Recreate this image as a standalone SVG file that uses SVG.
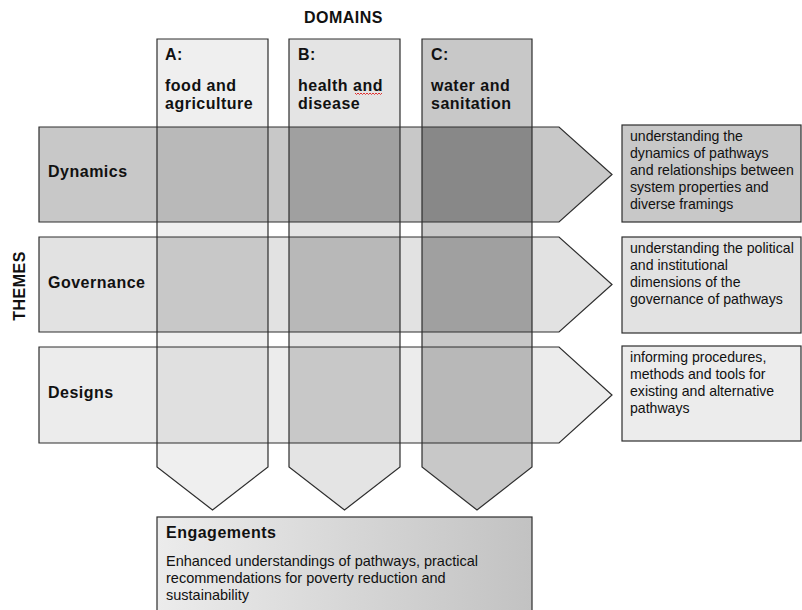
<svg xmlns="http://www.w3.org/2000/svg" width="802" height="610" viewBox="0 0 802 610">
<style>
text{font-family:"Liberation Sans",Arial,sans-serif;fill:#111}
.b{font-weight:bold;font-size:16px;letter-spacing:0.5px}
.r{font-size:14.5px}
.rs{font-size:14.1px}
.ol{fill:none;stroke:#2e2e2e;stroke-width:1.2}
.bx{stroke:#2e2e2e;stroke-width:1.2}
</style>
<defs>
<linearGradient id="eg" x1="0" y1="0" x2="1" y2="0">
<stop offset="0" stop-color="#ececec"/>
<stop offset="1" stop-color="#c2c2c2"/>
</linearGradient>
</defs>
<rect width="802" height="610" fill="#ffffff"/>
<text class="b" x="343.5" y="23" text-anchor="middle">DOMAINS</text>
<text class="b" transform="translate(25,286) rotate(-90)" text-anchor="middle">THEMES</text>

<g id="fills">
<path d="M157,39 H268 V467 L212.5,510 L157,467 Z" fill="#efefef"/>
<path d="M289,39 H400 V467 L344.5,510 L289,467 Z" fill="#e4e4e4"/>
<path d="M422,39 H532 V467 L477,510 L422,467 Z" fill="#c8c8c8"/>
<path d="M39,127 H559 L612,174.5 L559,222 H39 Z" fill="#c8c8c8"/>
<path d="M39,237 H559 L612,284.5 L559,332 H39 Z" fill="#e2e2e2"/>
<path d="M39,347 H559 L612,395 L559,443 H39 Z" fill="#ececec"/>
<rect x="157" y="127" width="111" height="95" fill="#b9b9b9"/>
<rect x="289" y="127" width="111" height="95" fill="#a0a0a0"/>
<rect x="422" y="127" width="110" height="95" fill="#888888"/>
<rect x="157" y="237" width="111" height="95" fill="#c8c8c8"/>
<rect x="289" y="237" width="111" height="95" fill="#b8b8b8"/>
<rect x="422" y="237" width="110" height="95" fill="#a0a0a0"/>
<rect x="157" y="347" width="111" height="96" fill="#e0e0e0"/>
<rect x="289" y="347" width="111" height="96" fill="#c8c8c8"/>
<rect x="422" y="347" width="110" height="96" fill="#b8b8b8"/>
</g>

<g id="domainA">
<path class="ol" d="M157,39 H268 V467 L212.5,510 L157,467 Z"/>
<text class="b" x="165" y="60">A:</text>
<text class="b" x="165" y="91">food and</text>
<text class="b" x="165" y="109">agriculture</text>
</g>
<g id="domainB">
<path class="ol" d="M289,39 H400 V467 L344.5,510 L289,467 Z"/>
<text class="b" x="298" y="60">B:</text>
<text class="b" x="298" y="91">health and</text>
<text class="b" x="298" y="109">disease</text>
<path d="M355,93 l1.5,1.5 1.5,-1.5 1.5,1.5 1.5,-1.5 1.5,1.5 1.5,-1.5 1.5,1.5 1.5,-1.5 1.5,1.5 1.5,-1.5 1.5,1.5 1.5,-1.5 1.5,1.5 1.5,-1.5 1.5,1.5 1.5,-1.5 1.5,1.5 1.5,-1.5" fill="none" stroke="#e03030" stroke-width="1"/>
</g>
<g id="domainC">
<path class="ol" d="M422,39 H532 V467 L477,510 L422,467 Z"/>
<text class="b" x="431" y="60">C:</text>
<text class="b" x="431" y="91">water and</text>
<text class="b" x="431" y="109">sanitation</text>
</g>

<g id="dynamics">
<path class="ol" d="M39,127 H559 L612,174.5 L559,222 H39 Z"/>
<text class="b" x="48" y="177">Dynamics</text>
</g>
<g id="governance">
<path class="ol" d="M39,237 H559 L612,284.5 L559,332 H39 Z"/>
<text class="b" x="48" y="288">Governance</text>
</g>
<g id="designs">
<path class="ol" d="M39,347 H559 L612,395 L559,443 H39 Z"/>
<text class="b" x="48" y="398">Designs</text>
</g>

<g id="out-dynamics">
<rect class="bx" x="622" y="125" width="179" height="97" fill="#c8c8c8"/>
<text class="rs" x="630" y="141">understanding the</text>
<text class="rs" x="630" y="158">dynamics of pathways</text>
<text class="rs" x="630" y="175">and relationships between</text>
<text class="rs" x="630" y="192">system properties and</text>
<text class="rs" x="630" y="209">diverse framings</text>
</g>
<g id="out-governance">
<rect class="bx" x="622" y="237" width="179" height="96" fill="#e2e2e2"/>
<text class="rs" x="630" y="253">understanding the political</text>
<text class="rs" x="630" y="270">and institutional</text>
<text class="rs" x="630" y="287">dimensions of the</text>
<text class="rs" x="630" y="304">governance of pathways</text>
</g>
<g id="out-designs">
<rect class="bx" x="622" y="346" width="179" height="95" fill="#ececec"/>
<text class="rs" x="630" y="362">informing procedures,</text>
<text class="rs" x="630" y="379">methods and tools for</text>
<text class="rs" x="630" y="396">existing and alternative</text>
<text class="rs" x="630" y="413">pathways</text>
</g>

<g id="engagements">
<rect class="bx" x="157" y="517" width="375" height="100" fill="url(#eg)"/>
<text class="b" x="166" y="538">Engagements</text>
<text class="r" x="166" y="566">Enhanced understandings of pathways, practical</text>
<text class="r" x="166" y="583">recommendations for poverty reduction and</text>
<text class="r" x="166" y="600">sustainability</text>
</g>
<g id="connectors"></g>
</svg>
